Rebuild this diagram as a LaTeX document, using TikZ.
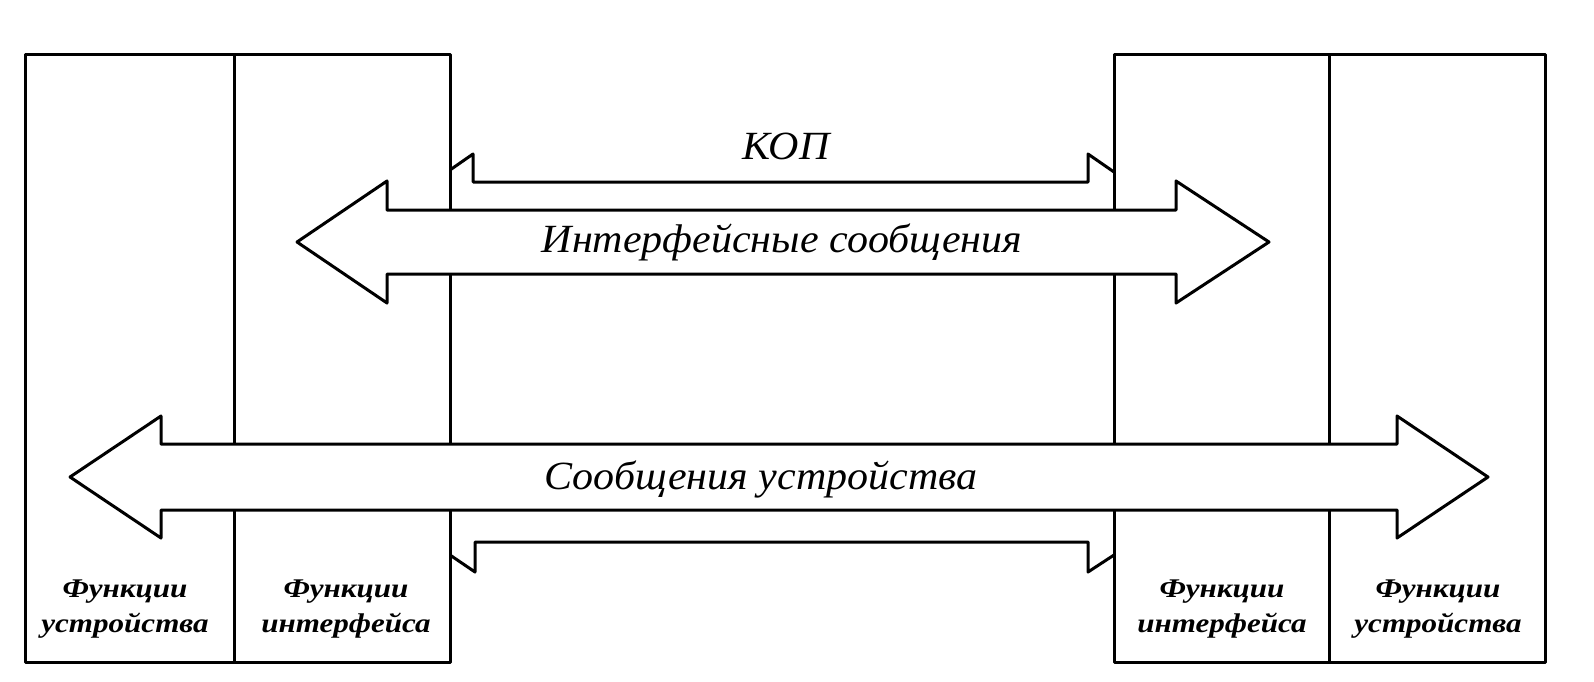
\documentclass[tikz,border=0pt]{standalone}
\usepackage{fontspec}
\setmainfont{Liberation Serif}
\newfontfamily\mainit[FakeStretch=1.05]{Liberation Serif}
\newfontfamily\labfont[FakeStretch=1.15]{Liberation Serif}
\begin{document}
\begin{tikzpicture}[x=1pt,y=-1pt,line width=3pt,line join=round,
  col/.style={draw,rectangle,minimum width=#1,minimum height=608pt,inner sep=0pt},
  bigtext/.style={font=\mainit\itshape\fontsize{40}{48}\selectfont,inner sep=0pt,anchor=base},
  coltext/.style={font=\labfont\bfseries\itshape\fontsize{27}{35}\selectfont,align=center,inner sep=0pt},
  bus/.style={draw,fill=white}]
\useasboundingbox (0,0) rectangle (1594,681);
% columns
\node[col=209pt] (devL) at (129.5,358) {};
\node[col=216pt] (ifL) at (342,358) {};
\node[col=215pt] (ifR) at (1221.5,358) {};
\node[col=216pt] (devR) at (1437,358) {};
% KOP brackets
\draw (450,170) -- (473,154) -- (473,182) -- (1088,182) -- (1088,154) -- (1114,172);
\draw (450,555) -- (475,572) -- (475,542) -- (1088,542) -- (1088,572) -- (1114,555);
% interface messages arrow
\draw[bus] (297,242) -- (387,181) -- (387,210) -- (1176,210) -- (1176,181) -- (1269,242)
  -- (1176,303) -- (1176,274) -- (387,274) -- (387,303) -- cycle;
% device messages arrow
\draw[bus] (70,477) -- (161,416) -- (161,444) -- (1397,444) -- (1397,416) -- (1488,477)
  -- (1397,538) -- (1397,510) -- (161,510) -- (161,538) -- cycle;
% texts
\node[bigtext] (kop) at (786,159) {КОП};
\node[bigtext] (im) at (782,252) {Интерфейсные сообщения};
\node[bigtext] (sd) at (761,489) {Сообщения устройства};
\node[coltext] (tdevL) at (125,609) {Функции\\устройства};
\node[coltext] (tifL) at (346,609) {Функции\\интерфейса};
\node[coltext] (tifR) at (1222,609) {Функции\\интерфейса};
\node[coltext] (tdevR) at (1438,609) {Функции\\устройства};
\end{tikzpicture}
\end{document}
